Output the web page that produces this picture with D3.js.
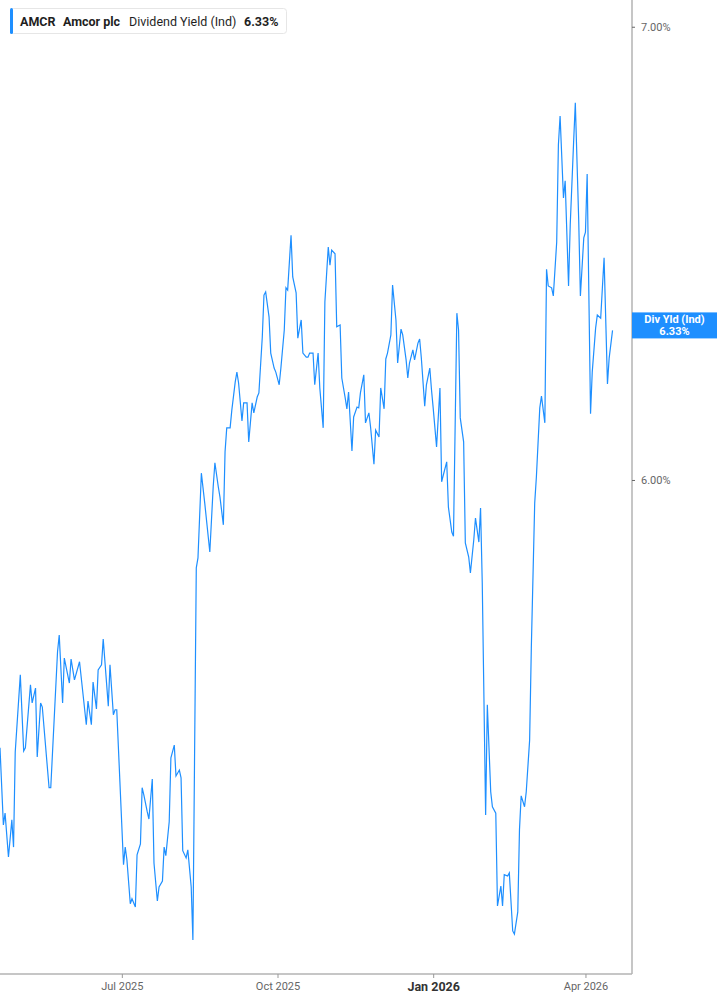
<!DOCTYPE html>
<html>
<head>
<meta charset="utf-8">
<script src="https://cdn.jsdelivr.net/npm/d3@7"></script>
<style>
  body { margin: 0; background: #fff; }
  svg { display: block; font-family: Roboto, "Liberation Sans", sans-serif; }
</style>
</head>
<body>
<svg id="chart"></svg>
<script>
// AMCR dividend yield (indicated)
const dates = [
  "2025-04-20","2025-04-22","2025-04-23","2025-04-25","2025-04-27","2025-04-28","2025-04-29","2025-05-02","2025-05-04","2025-05-05",
  "2025-05-08","2025-05-09","2025-05-11","2025-05-12","2025-05-14","2025-05-15","2025-05-19","2025-05-20","2025-05-24","2025-05-25",
  "2025-05-27","2025-05-28","2025-05-31","2025-06-01","2025-06-03","2025-06-06","2025-06-10","2025-06-11","2025-06-13","2025-06-14",
  "2025-06-16","2025-06-17","2025-06-19","2025-06-20","2025-06-23","2025-06-24","2025-06-26","2025-06-27","2025-06-28","2025-07-02",
  "2025-07-03","2025-07-04","2025-07-06","2025-07-07","2025-07-09","2025-07-10","2025-07-12","2025-07-13","2025-07-14","2025-07-16",
  "2025-07-17","2025-07-19","2025-07-20","2025-07-22","2025-07-23","2025-07-25","2025-07-26","2025-07-27","2025-07-29","2025-07-30",
  "2025-08-01","2025-08-02","2025-08-04","2025-08-05","2025-08-06","2025-08-08","2025-08-09","2025-08-11","2025-08-12","2025-08-14",
  "2025-08-15","2025-08-17","2025-08-19","2025-08-22","2025-08-24","2025-08-25","2025-08-27","2025-08-28","2025-08-30","2025-08-31",
  "2025-09-01","2025-09-03","2025-09-04","2025-09-06","2025-09-07","2025-09-08","2025-09-10","2025-09-11","2025-09-13","2025-09-14",
  "2025-09-16","2025-09-17","2025-09-19","2025-09-20","2025-09-22","2025-09-23","2025-09-24","2025-09-26","2025-09-27","2025-09-29",
  "2025-09-30","2025-10-02","2025-10-03","2025-10-05","2025-10-06","2025-10-07","2025-10-09","2025-10-10","2025-10-12","2025-10-13",
  "2025-10-15","2025-10-16","2025-10-18","2025-10-19","2025-10-20","2025-10-22","2025-10-23","2025-10-25","2025-10-26","2025-10-28",
  "2025-10-29","2025-10-31","2025-11-01","2025-11-02","2025-11-04","2025-11-05","2025-11-07","2025-11-08","2025-11-10","2025-11-11",
  "2025-11-12","2025-11-14","2025-11-15","2025-11-17","2025-11-18","2025-11-19","2025-11-21","2025-11-22","2025-11-24","2025-11-25",
  "2025-11-27","2025-11-28","2025-11-30","2025-12-01","2025-12-03","2025-12-04","2025-12-05","2025-12-07","2025-12-08","2025-12-10",
  "2025-12-11","2025-12-13","2025-12-14","2025-12-16","2025-12-17","2025-12-18","2025-12-20","2025-12-21","2025-12-23","2025-12-24",
  "2025-12-25","2025-12-27","2025-12-28","2025-12-30","2025-12-31","2026-01-01","2026-01-03","2026-01-05","2026-01-06","2026-01-07",
  "2026-01-09","2026-01-10","2026-01-12","2026-01-13","2026-01-15","2026-01-16","2026-01-17","2026-01-19","2026-01-20","2026-01-22",
  "2026-01-23","2026-01-25","2026-01-26","2026-01-28","2026-01-29","2026-01-30","2026-02-01","2026-02-02","2026-02-04","2026-02-05",
  "2026-02-07","2026-02-08","2026-02-10","2026-02-11","2026-02-12","2026-02-14","2026-02-15","2026-02-17","2026-02-18","2026-02-20",
  "2026-02-21","2026-02-22","2026-02-24","2026-02-25","2026-02-27","2026-02-28","2026-03-02","2026-03-03","2026-03-05","2026-03-06",
  "2026-03-08","2026-03-09","2026-03-10","2026-03-12","2026-03-13","2026-03-15","2026-03-16","2026-03-17","2026-03-19","2026-03-20",
  "2026-03-22","2026-03-23","2026-03-25","2026-03-26","2026-03-28","2026-03-29","2026-03-31","2026-04-01","2026-04-02","2026-04-04",
  "2026-04-05","2026-04-07","2026-04-08","2026-04-10","2026-04-11","2026-04-12","2026-04-14","2026-04-15","2026-04-17"
];

const yields = [
  5.409,5.239,5.265,5.168,5.250,5.190,5.400,5.570,5.402,5.409,
  5.548,5.508,5.541,5.389,5.508,5.499,5.321,5.321,5.621,5.658,
  5.508,5.607,5.552,5.605,5.559,5.599,5.460,5.512,5.460,5.554,
  5.495,5.581,5.592,5.649,5.501,5.592,5.482,5.493,5.493,5.151,
  5.190,5.162,5.065,5.076,5.058,5.173,5.197,5.321,5.305,5.268,
  5.252,5.340,5.155,5.071,5.102,5.115,5.190,5.171,5.246,5.387,
  5.415,5.347,5.360,5.343,5.182,5.166,5.184,5.102,4.985,5.806,
  5.828,6.015,5.949,5.841,5.985,6.038,5.985,5.962,5.901,6.062,
  6.115,6.115,6.154,6.216,6.238,6.214,6.130,6.170,6.170,6.084,
  6.170,6.148,6.183,6.192,6.315,6.408,6.415,6.360,6.280,6.247,
  6.238,6.210,6.247,6.331,6.424,6.419,6.540,6.448,6.413,6.313,
  6.353,6.280,6.271,6.271,6.280,6.280,6.210,6.280,6.203,6.115,
  6.393,6.514,6.474,6.507,6.499,6.338,6.342,6.225,6.181,6.157,
  6.194,6.064,6.139,6.161,6.159,6.192,6.232,6.126,6.148,6.117,
  6.035,6.110,6.095,6.203,6.157,6.267,6.280,6.320,6.430,6.353,
  6.258,6.333,6.320,6.265,6.225,6.258,6.287,6.265,6.302,6.311,
  6.269,6.163,6.210,6.247,6.199,6.159,6.073,6.203,5.996,6.011,
  6.040,5.940,5.885,5.876,6.368,6.331,6.137,6.084,5.861,5.830,
  5.795,5.868,5.916,5.863,5.938,5.773,5.261,5.504,5.312,5.279,
  5.265,5.060,5.104,5.060,5.129,5.126,5.133,5.005,4.998,5.047,
  5.228,5.303,5.279,5.312,5.426,5.629,5.949,6.007,6.159,6.185,
  6.126,6.465,6.428,6.424,6.406,6.525,6.739,6.803,6.622,6.660,
  6.428,6.563,6.746,6.832,6.574,6.406,6.534,6.547,6.675,6.146,
  6.238,6.335,6.364,6.357,6.424,6.490,6.212,6.269,6.330
];

const xTickDates = ["2025-07-01", "2025-10-01", "2026-01-01", "2026-04-01"];
const yTickValues = [6, 7];
const ticker = "AMCR";
const company = "Amcor plc";
const metric = "Dividend Yield (Ind)";
const lastValue = "6.33%";

const W = 717, H = 1005;
const plotW = 632, plotH = 974;
const blue = "#1e8fff";

const parse = d3.timeParse("%Y-%m-%d");
const data = dates.map((d, i) => ({ date: parse(d), v: yields[i] }));

const svg = d3.select("#chart").attr("width", W).attr("height", H);

const x = d3.scaleTime()
  .domain([new Date(2025, 3, 20), new Date(2026, 3, 28, 12)])
  .range([0, plotW]);

const y = d3.scaleLinear()
  .domain([4.91, 7.059])
  .range([plotH, 0]);

// line
const line = d3.line()
  .x(d => x(d.date))
  .y(d => y(d.v));

svg.append("path")
  .datum(data)
  .attr("fill", "none")
  .attr("stroke", blue)
  .attr("stroke-width", 1.2)
  .attr("d", line);

// right axis
const yAxis = svg.append("g")
  .attr("transform", `translate(${plotW},0)`)
  .call(d3.axisRight(y)
    .tickValues(yTickValues)
    .tickSize(3)
    .tickPadding(6)
    .tickFormat(d => d3.format(".2f")(d) + "%"));
yAxis.select(".domain").attr("stroke", "#b3b3b3").attr("stroke-width", 1.5)
  .attr("d", `M0,0V${plotH}`);
yAxis.selectAll(".tick line").attr("stroke", "#666");
yAxis.selectAll(".tick text")
  .attr("fill", "#666")
  .style("font-size", "11px")
  .style("font-family", "Roboto, sans-serif");

// bottom axis
const xAxis = svg.append("g")
  .attr("transform", `translate(0,${plotH})`)
  .call(d3.axisBottom(x)
    .tickValues(xTickDates.map(parse))
    .tickSize(4)
    .tickPadding(4)
    .tickFormat(d3.timeFormat("%b %Y")));
xAxis.select(".domain").attr("stroke", "#b3b3b3").attr("stroke-width", 1.5)
  .attr("d", `M0,0H${plotW}`);
xAxis.selectAll(".tick line").attr("stroke", "#999");
xAxis.selectAll(".tick text")
  .attr("fill", d => d.getMonth() === 0 ? "#333" : "#666")
  .style("font-size", d => d.getMonth() === 0 ? "12.5px" : "11px")
  .style("font-weight", d => d.getMonth() === 0 ? "700" : "400")
  .style("font-family", "Roboto, sans-serif");

// legend box top-left
const leg = svg.append("g");
leg.append("rect")
  .attr("x", 10.5).attr("y", 8.5)
  .attr("width", 276).attr("height", 25)
  .attr("rx", 3)
  .attr("fill", "#fff")
  .attr("stroke", "#e6e6e6");
leg.append("rect")
  .attr("x", 10).attr("y", 8)
  .attr("width", 3).attr("height", 26)
  .attr("rx", 1.5)
  .attr("fill", blue);
const legItems = [
  { t: ticker, x: 20, w: 700 },
  { t: company, x: 63, w: 700 },
  { t: metric, x: 129, w: 400 },
  { t: lastValue, x: 244, w: 700 }
];
leg.selectAll("text.leg")
  .data(legItems)
  .enter().append("text")
  .attr("class", "leg")
  .attr("x", d => d.x)
  .attr("y", 25.5)
  .attr("fill", "#1f1f1f")
  .style("font-size", "12.5px")
  .style("font-weight", d => d.w)
  .text(d => d.t);

// last value flag on right axis
const flagY = y(+lastValue.replace("%", ""));
const flag = svg.append("g");
flag.append("rect")
  .attr("x", plotW).attr("y", flagY - 18)
  .attr("width", W - plotW).attr("height", 26)
  .attr("fill", blue);
flag.append("text")
  .attr("x", plotW + (W - plotW) / 2)
  .attr("y", flagY - 7)
  .attr("text-anchor", "middle")
  .attr("fill", "#fff")
  .style("font-size", "11px")
  .style("font-weight", "700")
  .text("Div Yld (Ind)");
flag.append("text")
  .attr("x", plotW + (W - plotW) / 2)
  .attr("y", flagY + 4.5)
  .attr("text-anchor", "middle")
  .attr("fill", "#fff")
  .style("font-size", "11px")
  .style("font-weight", "700")
  .text(lastValue);
</script>
</body>
</html>
